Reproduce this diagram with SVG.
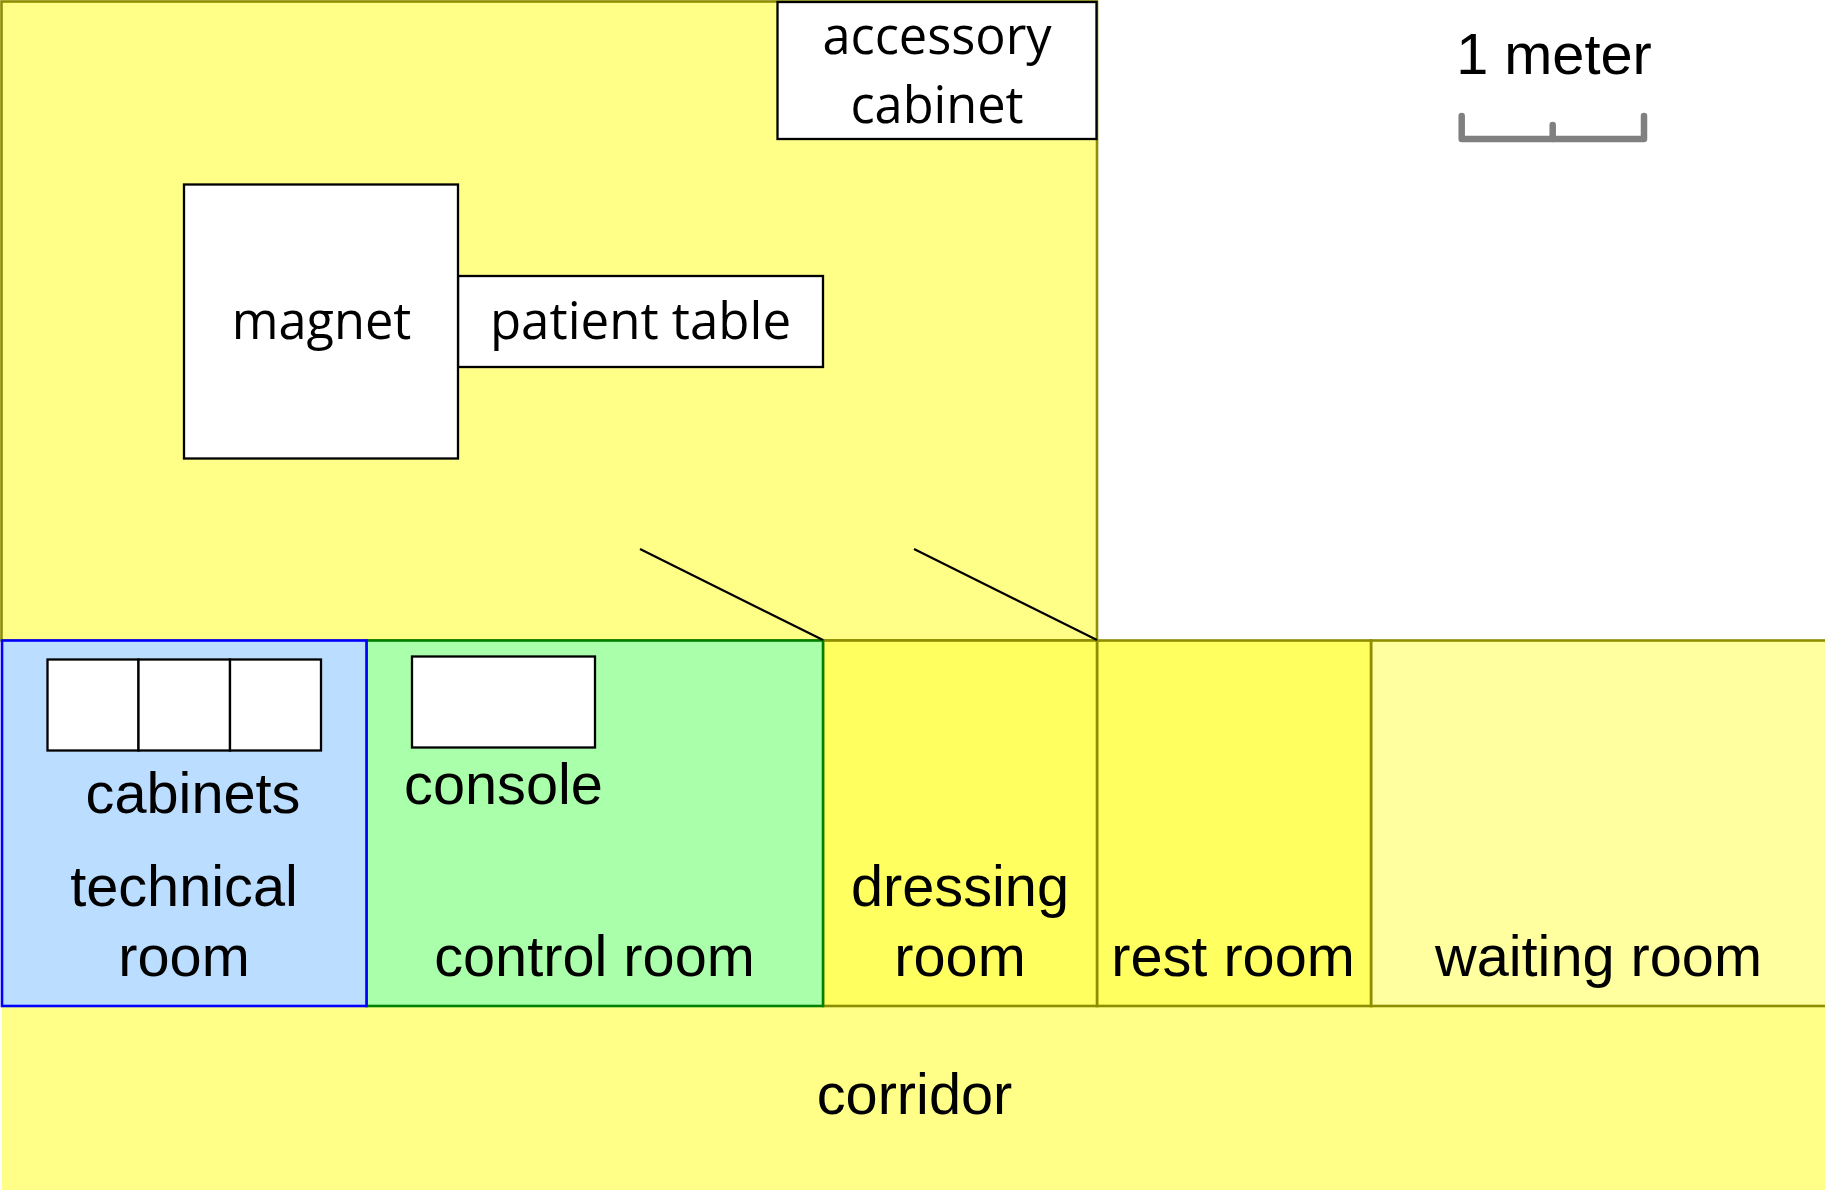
<svg xmlns="http://www.w3.org/2000/svg" width="1825" height="1190" viewBox="0 0 1825 1190">
<style>
.room{stroke:#8e8e00;stroke-width:2.6}
.w{fill:#fff;stroke:#000;stroke-width:2.300}
.a{font-family:"Liberation Sans",Arial,sans-serif;font-size:57.7px;fill:#000;text-anchor:middle}
.o{font-family:"Open Sans","Noto Sans",sans-serif;font-size:50.5px;fill:#000;text-anchor:middle}
.s{fill:none;stroke:#808080;stroke-width:6.500;stroke-linecap:round;stroke-linejoin:round}
</style>
<rect width="1825" height="1190" fill="#fff"/>
<g id="corridor"><rect x="2" y="1006" width="1823" height="184" fill="#ffff88"/><text class="a" x="914.500" y="1114">corridor</text></g>
<g id="magnet-room"><rect class="room" x="1.500" y="1.500" width="1095.500" height="639" fill="#ffff88"/></g>
<g id="waiting-room"><rect class="room" x="1371" y="640.500" width="456" height="365.500" fill="#ffffa0"/><text class="a" x="1598.500" y="976">waiting room</text></g>
<g id="rest-room"><rect class="room" x="1097" y="640.500" width="274" height="365.500" fill="#ffff5f"/><text class="a" x="1233" y="976">rest room</text></g>
<g id="dressing-room"><rect class="room" x="823" y="640.500" width="274" height="365.500" fill="#ffff5f"/><text class="a" x="960" y="906">dressing</text><text class="a" x="960" y="976">room</text></g>
<g id="control-room"><rect x="366.500" y="640.500" width="456.500" height="365.500" fill="#aaffaa" stroke="#008000" stroke-width="2.600"/><text class="a" x="594.500" y="976">control room</text></g>
<g id="technical-room"><rect x="2" y="640.500" width="364.500" height="365.500" fill="#bbddff" stroke="#0000ff" stroke-width="2.600"/><text class="a" x="184" y="906">technical</text><text class="a" x="184" y="976">room</text></g>
<g id="accessory-cabinet"><rect class="w" x="777.500" y="2" width="319" height="137"/><text class="o" x="937" y="54">accessory</text><text class="o" x="937" y="123">cabinet</text></g>
<g id="patient-table"><rect class="w" x="458" y="276" width="365" height="91"/><text class="o" x="640.500" y="339" style="font-size:51px">patient table</text></g>
<g id="magnet"><rect class="w" x="184" y="184.500" width="274" height="274"/><text class="o" x="321.500" y="339">magnet</text></g>
<g id="cabinets"><rect class="w" x="47.500" y="659.500" width="91" height="91"/><rect class="w" x="138.500" y="659.500" width="91.500" height="91"/><rect class="w" x="230" y="659.500" width="91" height="91"/><text class="a" x="193" y="813">cabinets</text></g>
<g id="console"><rect class="w" x="412" y="656.500" width="183" height="91"/><text class="a" x="503.500" y="804">console</text></g>
<g id="doors" fill="none" stroke="#000" stroke-width="2.200"><path d="M640 549L823 640"/><path d="M914 549L1097 640"/></g>
<g id="scale"><text class="a" x="1554" y="74">1 meter</text><path class="s" d="M1461.700 116V139H1644V116"/><path class="s" d="M1552.700 125V139"/></g>
</svg>
